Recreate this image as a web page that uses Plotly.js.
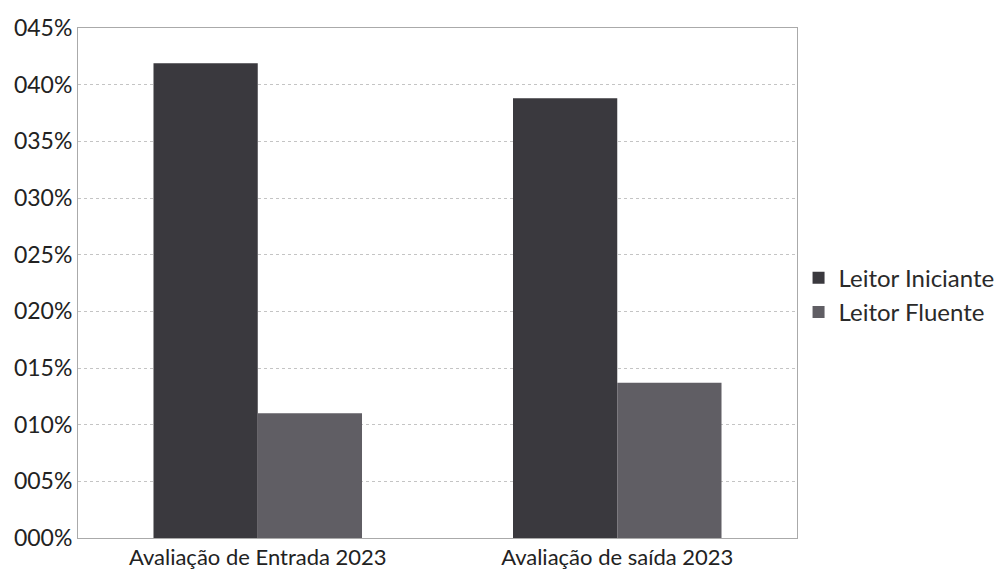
<!DOCTYPE html>
<html>
<head>
<meta charset="utf-8">
<script src="https://cdn.plot.ly/plotly-3.0.1.min.js"></script>
<style>html,body{margin:0;padding:0;background:#fff;}#chart{width:1007px;height:570px;}</style>
</head>
<body>
<div id="chart"></div>
<script>
const categories = ["Avaliação de Entrada 2023", "Avaliação de saída 2023"];
const leitorIniciante = [41.9, 38.8];
const leitorFluente = [11.0, 13.7];
const tickVals = [0, 5, 10, 15, 20, 25, 30, 35, 40, 45];
const tickText = ["000%", "005%", "010%", "015%", "020%", "025%", "030%", "035%", "040%", "045%"];

const fontFam = "Lato, 'Open Sans', sans-serif";
const data = [
  {type: "bar", name: "Leitor Iniciante", x: categories, y: leitorIniciante,
   marker: {color: "#3a393e"}},
  {type: "bar", name: "Leitor Fluente", x: categories, y: leitorFluente,
   marker: {color: "#605e64"}}
];
const layout = {
  width: 1007, height: 570,
  margin: {l: 78, r: 210, t: 28, b: 32},
  paper_bgcolor: "#ffffff", plot_bgcolor: "#ffffff",
  barmode: "group", bargap: 0.42, bargroupgap: 0,
  showlegend: true,
  legend: {xref: "container", yref: "container", x: 0.793, y: 0.482, yanchor: "middle", xanchor: "left",
           bgcolor: "rgba(0,0,0,0)",
           font: {family: fontFam, size: 24, color: "#2a2a2a"}, itemwidth: 30, tracegroupgap: 4},
  xaxis: {showgrid: false, showline: true, linecolor: "#aaaaaa", mirror: true,
          ticks: "", tickfont: {family: fontFam, size: 22, color: "#222"}},
  yaxis: {range: [0, 45], tickvals: tickVals, ticktext: tickText,
          showgrid: true, gridcolor: "#c4c4c4", gridwidth: 1, griddash: "dot",
          showline: true, linecolor: "#aaaaaa", mirror: true, zeroline: false,
          ticks: "", tickfont: {family: fontFam, size: 23, color: "#222"}}
};
Plotly.newPlot("chart", data, layout, {displayModeBar: false, staticPlot: true});
</script>
</body>
</html>
